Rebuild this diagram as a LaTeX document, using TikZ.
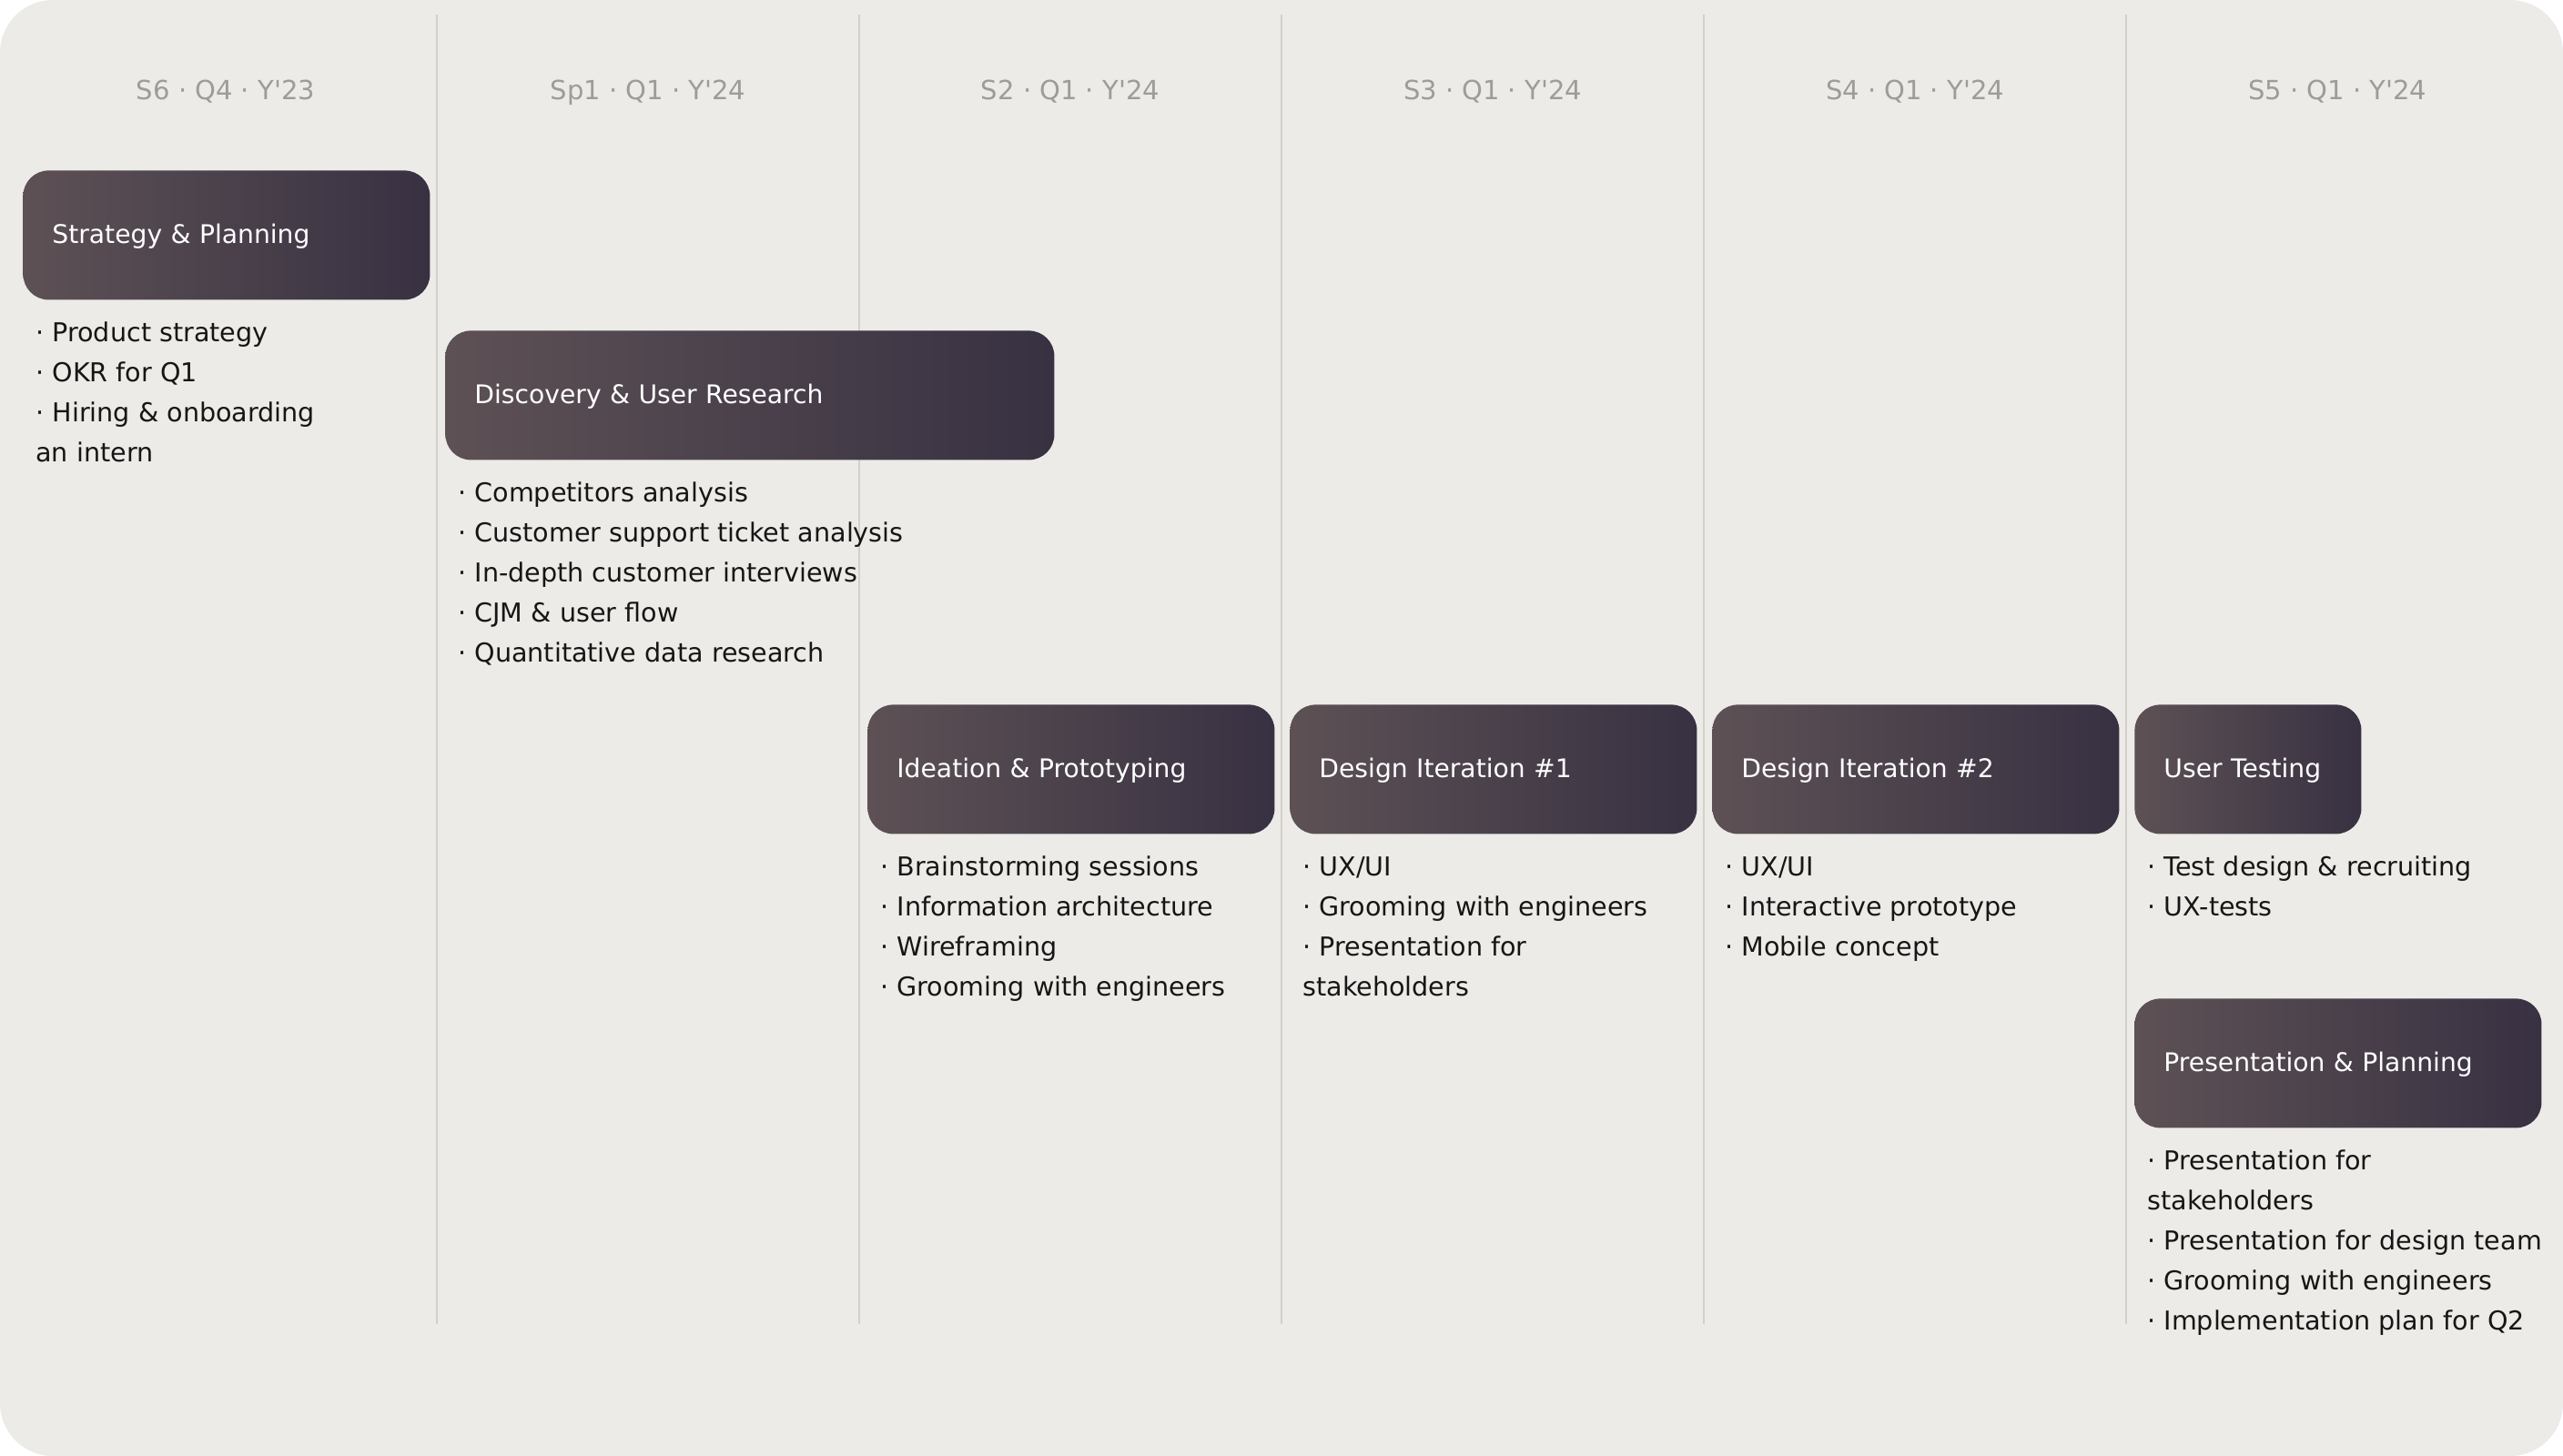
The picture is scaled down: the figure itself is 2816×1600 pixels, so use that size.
\documentclass[tikz,border=0pt]{standalone}
\usepackage{fontspec}
\setmainfont{DejaVu Sans}
\usepackage{xcolor}
\usepackage{tikz}
\usetikzlibrary{positioning}

\definecolor{pagebg}{HTML}{ECEBE7}
\definecolor{colrule}{HTML}{D3D0C9}
\definecolor{headgray}{HTML}{9E9C97}
\definecolor{phaseL}{HTML}{5D5155}
\definecolor{phaseR}{HTML}{383142}
\definecolor{itemtext}{HTML}{161616}

\newcommand{\planfont}{\fontsize{14.3}{22}\selectfont}
\newcommand{\phasefont}{\fontsize{14.1}{22}\selectfont}
\newcommand{\sprintfont}{\fontsize{14.5}{22}\selectfont}

\begin{document}
\begin{tikzpicture}[x=0.5pt, y=-0.5pt,
        sprint/.style={text=headgray, font=\sprintfont, anchor=base, inner sep=0pt},
        phase/.style={rounded corners=14pt, left color=phaseL, right color=phaseR, text=white, font=\phasefont, anchor=north west, inner xsep=16pt, inner ysep=0pt, minimum height=71pt, align=left, text width=#1, execute at begin node=\strut},
        items/.style={text=itemtext, font=\planfont, align=left, inner sep=0pt, execute at begin node=\strut},
        colline/.style={draw=colrule, line width=1pt}]

        % Page
        \useasboundingbox (0,0) rectangle (2816,1600);
        \fill[white] (0,0) rectangle (2816,1600);
        \fill[pagebg, rounded corners=29pt] (0,0) rectangle (2816,1600);

        % Column rules
        \foreach \x in {480,944,1408,1872,2336}
            \draw[colline] (\x,16) -- (\x,1455);

        % Sprint headers
        \node[sprint] (s6) at (248,110) {S6 · Q4 · Y\textquotesingle23};
        \node[sprint] (sp1) at (712,110) {Sp1 · Q1 · Y\textquotesingle24};
        \node[sprint] (s2) at (1176,110) {S2 · Q1 · Y\textquotesingle24};
        \node[sprint] (s3) at (1640,110) {S3 · Q1 · Y\textquotesingle24};
        \node[sprint] (s4) at (2104,110) {S4 · Q1 · Y\textquotesingle24};
        \node[sprint] (s5) at (2568,110) {S5 · Q1 · Y\textquotesingle24};

        % Phases
        \node[phase=191.5pt] (strat) at (25,187) {Strategy \& Planning};
        \node[phase=302.5pt] (disc) at (489,363) {Discovery \& User Research};
        \node[phase=191.5pt] (idea) at (953,774) {Ideation \& Prototyping};
        \node[phase=191.5pt] (iter1) at (1417,774) {Design Iteration \#1};
        \node[phase=191.5pt] (iter2) at (1881,774) {Design Iteration \#2};
        \node[phase=92.5pt] (test) at (2345,774) {User Testing};
        \node[phase=191.5pt] (pres) at (2345,1097) {Presentation \& Planning};

        % Tasks
        \node[items, below right=12pt and 7pt of strat.south west] (stratlist) {· Product strategy\\· OKR for Q1\\· Hiring \& onboarding\\an intern};
        \node[items, below right=12pt and 7pt of disc.south west] (disclist) {· Competitors analysis\\· Customer support ticket analysis\\· In-depth customer interviews\\· CJM \& user flow\\· Quantitative data research};
        \node[items, below right=12pt and 7pt of idea.south west] (idealist) {· Brainstorming sessions\\· Information architecture\\· Wireframing\\· Grooming with engineers};
        \node[items, below right=12pt and 7pt of iter1.south west] (iter1list) {· UX/UI\\· Grooming with engineers\\· Presentation for\\stakeholders};
        \node[items, below right=12pt and 7pt of iter2.south west] (iter2list) {· UX/UI\\· Interactive prototype\\· Mobile concept};
        \node[items, below right=12pt and 7pt of test.south west] (testlist) {· Test design \& recruiting\\· UX-tests};
        \node[items, below right=12pt and 7pt of pres.south west] (preslist) {· Presentation for\\stakeholders\\· Presentation for design team\\· Grooming with engineers\\· Implementation plan for Q2};

    \end{tikzpicture}
\end{document}
